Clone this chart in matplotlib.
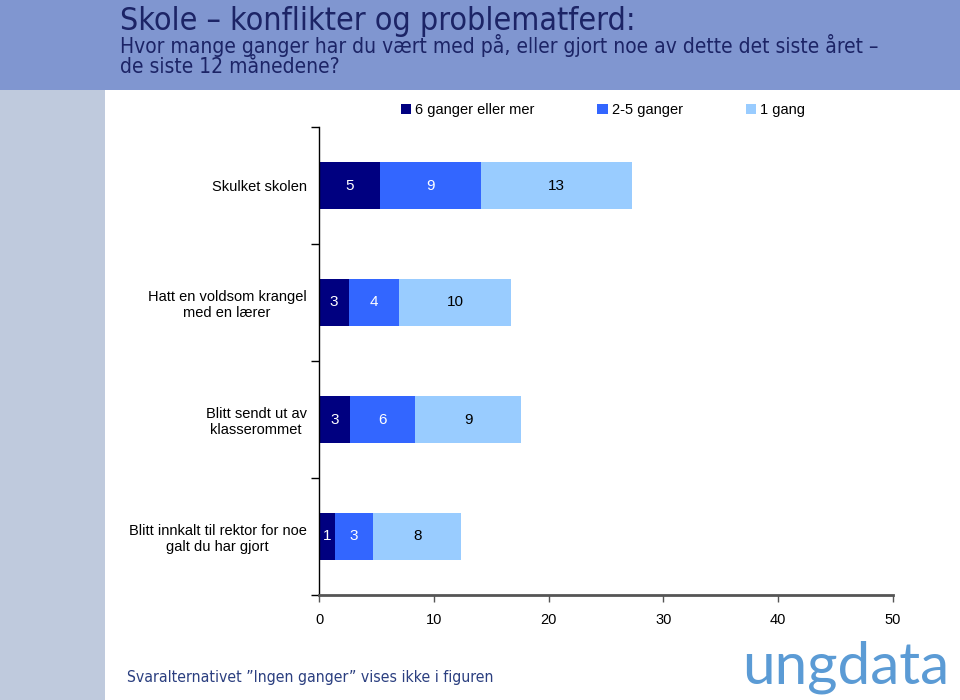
import numpy as np
import matplotlib.pyplot as plt
from matplotlib.patches import Patch, Rectangle

categories = ['Skulket skolen',
              'Hatt en voldsom krangel\nmed en lærer',
              'Blitt sendt ut av\nklasserommet',
              'Blitt innkalt til rektor for noe\ngalt du har gjort']
series = ['6 ganger eller mer', '2-5 ganger', '1 gang']
val_6plus = [5.3, 2.6, 2.7, 1.4]
val_2to5 = [8.8, 4.4, 5.7, 3.3]
val_1 = [13.2, 9.7, 9.2, 7.7]
colors = ['#000080', '#3366ff', '#99ccff']
text_colors = ['white', 'white', 'black']

W, H = 960, 700
fig = plt.figure(figsize=(9.6, 7.0), dpi=100)
fig.patch.set_facecolor('white')

# header band and left strip
fig.patches.append(Rectangle((0, 1 - 90 / H), 1, 90 / H, transform=fig.transFigure,
                             facecolor='#8096d0', edgecolor='none', zorder=0))
fig.patches.append(Rectangle((0, 0), 105 / W, 1 - 90 / H, transform=fig.transFigure,
                             facecolor='#bfcadd', edgecolor='none', zorder=0))

narrow = ['DejaVu Sans']
fig.text(120 / W, 1 - 30 / H, 'Skole \u2013 konflikter og problematferd:',
         fontsize=23, color='#1c2466', family=narrow, stretch='condensed', va='baseline')
fig.text(120 / W, 1 - 53 / H, 'Hvor mange ganger har du vært med på, eller gjort noe av dette det siste året \u2013',
         fontsize=15, color='#1c2466', family=narrow, stretch='condensed', va='baseline')
fig.text(120 / W, 1 - 73 / H, 'de siste 12 månedene?',
         fontsize=15, color='#1c2466', family=narrow, stretch='condensed', va='baseline')

ax = fig.add_axes([319 / W, (H - 595) / H, 574 / W, (595 - 127) / H])
y = np.arange(len(categories))
left = np.zeros(len(categories))
for vals, c, tc in zip([val_6plus, val_2to5, val_1], colors, text_colors):
    vals = np.array(vals)
    ax.barh(y, vals, left=left, height=0.41, color=c, edgecolor='none')
    for yi, l, v in zip(y, left, vals):
        ax.text(l + v / 2, yi, '%d' % round(v), ha='center', va='center',
                fontsize=11, color=tc, family='Liberation Sans')
    left = left + vals

ax.set_xlim(0, 50)
ax.set_ylim(len(categories) - 0.5, -0.5)
ax.set_xticks(np.arange(0, 51, 10))
ax.set_yticks(np.arange(-0.5, len(categories), 1.0))
ax.set_yticklabels([])
ax.set_yticks(y, minor=True)
ax.set_yticklabels(categories, minor=True, fontsize=10.5, family='Liberation Sans')
for lab in ax.get_yticklabels(minor=True):
    lab.set_multialignment('center')
ax.tick_params(axis='y', which='minor', length=0, pad=9)
ax.tick_params(axis='y', which='major', length=6, width=1, color='black', direction='out')
ax.tick_params(axis='x', length=5, width=1, color='#555555', pad=8, labelsize=10.5)
for lab in ax.get_xticklabels():
    lab.set_family('Liberation Sans')
for s in ['top', 'right']:
    ax.spines[s].set_visible(False)
ax.spines['left'].set_color('black')
ax.spines['left'].set_linewidth(1)
ax.spines['bottom'].set_color('#555555')
ax.spines['bottom'].set_linewidth(2)

handles = [Patch(facecolor=c, edgecolor='none') for c in colors]
fig.legend(handles, series, loc='center', bbox_to_anchor=(603 / W, 1 - 110 / H), ncol=3,
           frameon=False, handlelength=0.7, handleheight=0.7, handletextpad=0.3,
           columnspacing=4.3, prop={'family': 'Liberation Sans', 'size': 10.5})

fig.text(127 / W, 1 - 682 / H, 'Svaralternativet \u201dIngen ganger\u201d vises ikke i figuren',
         fontsize=11.3, color='#2b3f80', family=narrow, stretch='condensed', va='baseline')
fig.text(742 / W, 1 - 683 / H, 'ungdata', fontsize=42, color='#5b9bd5',
         family=['Lato', 'DejaVu Sans'], va='baseline')

fig.savefig('out.png', dpi=100)
